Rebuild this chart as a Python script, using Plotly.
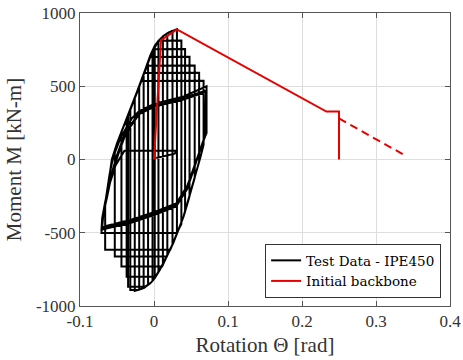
import plotly.graph_objects as go

# ---------------- data ----------------
X_TICKS = [-0.1, 0, 0.1, 0.2, 0.3, 0.4]
X_TICK_TEXT = ["-0.1", "0", "0.1", "0.2", "0.3", "0.4"]
Y_TICKS = [-1000, -500, 0, 500, 1000]
Y_TICK_TEXT = ["-1000", "-500", "0", "500", "1000"]

# Initial backbone (rotation [rad], moment [kN-m])
BACKBONE_ROT = [0.0, 0.0095, 0.031, 0.233, 0.25, 0.25]
BACKBONE_MOM = [0, 815, 888, 327, 327, 0]
# Dashed extension of the post-capping branch
EXT_ROT = [0.25, 0.342]
EXT_MOM = [280, 20]

# Test data - IPE450 (read vertex by vertex off the picture)
TEST_POINTS = [
    (0.000, 0), (0.000, 380), (-0.001, -380), (0.000, 380), (-0.001, -380),
    (0.000, 740), (0.001, 776), (0.001, -810), (-0.002, -828),
    (-0.002, 740), (0.001, 776), (0.006, 810), (0.006, -765), (0.001, -810), (-0.005, -845), (-0.008, -855),
    (-0.008, 660), (-0.005, 710), (0.001, 776), (0.007, 815), (0.012, 840), (0.012, -715), (0.008, -753),
    (0.001, -810), (-0.005, -845), (-0.014, -878),
    (-0.014, 580), (-0.010, 639), (-0.005, 710), (0.001, 776), (0.007, 815), (0.013, 845), (0.018, 862),
    (0.018, -655), (0.008, -753), (0.001, -810), (-0.005, -845), (-0.015, -880), (-0.020, -888),
    (-0.020, 495), (-0.017, 540), (-0.010, 639), (-0.005, 710), (0.001, 776), (0.007, 815), (0.013, 845),
    (0.020, 868), (0.025, 880), (0.025, -580), (0.017, -665), (0.008, -753), (0.001, -810), (-0.005, -845),
    (-0.015, -880), (-0.026, -897),
    (-0.026, 420), (-0.023, 457), (-0.017, 540), (-0.010, 639), (-0.005, 710), (0.001, 776), (0.007, 815),
    (0.013, 845), (0.020, 868), (0.031, 890), (0.031, -505), (0.026, -571), (0.017, -665), (0.008, -753),
    (0.001, -810), (-0.005, -845), (-0.015, -880), (-0.022, -890), (-0.032, -890),
    (-0.032, 340), (-0.023, 457), (-0.017, 540), (-0.010, 639), (-0.005, 710), (0.006, 810), (0.037, 812),
    (0.037, -440), (0.033, -480), (0.026, -571), (0.017, -665), (0.008, -753), (0.001, -810), (-0.005, -845),
    (-0.012, -868), (-0.035, -868),
    (-0.035, 300), (-0.032, 340), (-0.023, 457), (-0.017, 540), (-0.010, 639), (-0.004, 720), (-0.001, 753),
    (0.042, 755),
    (0.042, -355), (0.040, -388), (0.033, -480), (0.026, -571), (0.017, -665), (0.008, -753), (0.002, -800),
    (-0.037, -800),
    (-0.037, 270), (-0.032, 340), (-0.023, 457), (-0.017, 540), (-0.010, 639), (-0.005, 700), (0.048, 702),
    (0.048, -250), (0.047, -270), (0.040, -388), (0.033, -480), (0.026, -571), (0.017, -665), (0.011, -730),
    (-0.044, -730),
    (-0.044, 190), (-0.041, 228), (-0.032, 340), (-0.023, 457), (-0.017, 540), (-0.009, 640), (0.055, 642),
    (0.055, -125), (0.053, -160), (0.047, -270), (0.040, -388), (0.033, -480), (0.026, -571), (0.017, -662),
    (-0.053, -662),
    (-0.053, 60), (-0.050, 110), (-0.041, 228), (-0.032, 340), (-0.023, 457), (-0.0135, 590), (0.061, 592),
    (0.061, -15), (0.053, -160), (0.047, -270), (0.040, -388), (0.033, -480), (0.026, -571), (0.022, -616),
    (-0.066, -616),
    (-0.066, -300), (-0.064, -250), (-0.057, 0), (-0.050, 110), (-0.041, 228), (-0.032, 340), (-0.023, 457),
    (-0.017, 536), (0.067, 538),
    (0.067, 100), (0.063, 20), (0.053, -160), (0.047, -270), (0.040, -388), (0.033, -480), (0.031, -500),
    (-0.071, -502),
    (-0.070, -420), (-0.066, -300), (-0.060, -100), (-0.055, 20), (-0.045, 150), (-0.030, 280), (-0.020, 330),
    (0.000, 380), (0.040, 430), (0.071, 500),
    (0.071, 180), (0.066, 120), (0.058, 0), (0.045, -200), (0.030, -320), (0.000, -380), (-0.030, -430),
    (-0.071, -480),
    (-0.070, -400), (-0.066, -290), (-0.058, -110), (-0.050, 30), (-0.040, 170), (-0.020, 320), (0.000, 370),
    (0.040, 420), (0.070, 470),
    (0.070, 170), (0.065, 100), (0.057, -10), (0.045, -190), (0.030, -310), (0.000, -370), (-0.030, -420),
    (-0.070, -470),
    (-0.069, -380), (-0.064, -270), (-0.057, -100), (-0.048, 40), (-0.038, 180), (-0.020, 310), (0.000, 360),
    (0.040, 410), (0.070, 460),
    (0.069, 160), (0.064, 90), (0.056, -20), (0.045, -180), (0.030, -300), (0.000, -360), (-0.030, -410),
    (-0.070, -460),
    (-0.068, -350), (-0.062, -200), (-0.052, -40), (-0.040, 60), (0.030, 60), (0.028, 40), (0.003, 10),
]
TEST_ROT = [p[0] for p in TEST_POINTS]
TEST_MOM = [p[1] for p in TEST_POINTS]

# ---------------- figure ----------------
SERIF = "Liberation Serif"
LEGEND_SERIF = "DejaVu Serif"
RED = "#e60000"

fig = go.Figure()
fig.add_trace(go.Scatter(x=TEST_ROT, y=TEST_MOM, mode="lines",
                         line=dict(color="black", width=2),
                         name="Test Data - IPE450"))
fig.add_trace(go.Scatter(x=BACKBONE_ROT, y=BACKBONE_MOM, mode="lines",
                         line=dict(color=RED, width=2),
                         name="Initial backbone"))
fig.add_trace(go.Scatter(x=EXT_ROT, y=EXT_MOM, mode="lines",
                         line=dict(color=RED, width=2, dash="8px,5px"),
                         showlegend=False))

axis_common = dict(
    showgrid=True, gridcolor="#dedede", gridwidth=1,
    showline=True, linecolor="#555", linewidth=1, mirror="ticks",
    ticks="inside", ticklen=5, tickcolor="#555",
    zeroline=False, automargin=False,
    tickfont=dict(family=SERIF, size=17, color="#333"),
)

fig.update_layout(
    width=463, height=360,
    margin=dict(l=80, r=13, t=13, b=54),
    plot_bgcolor="white", paper_bgcolor="white",
    xaxis=dict(range=[-0.1, 0.4], tickvals=X_TICKS, ticktext=X_TICK_TEXT,
               title=dict(text="Rotation Θ [rad]", font=dict(family=SERIF, size=21, color="#333"),
                          standoff=6),
               **axis_common),
    yaxis=dict(range=[-1000, 1000], tickvals=Y_TICKS, ticktext=Y_TICK_TEXT,
               title=dict(text="Moment M [kN-m]", font=dict(family=SERIF, size=21, color="#333"),
                          standoff=8),
               **axis_common),
    legend=dict(x=0.976, y=0.027, xanchor="right", yanchor="bottom",
                bgcolor="white", bordercolor="#333", borderwidth=1,
                font=dict(family=LEGEND_SERIF, size=13.5, color="black"),
                tracegroupgap=0, itemwidth=30),
    showlegend=True,
)

fig.write_html("out.html")
